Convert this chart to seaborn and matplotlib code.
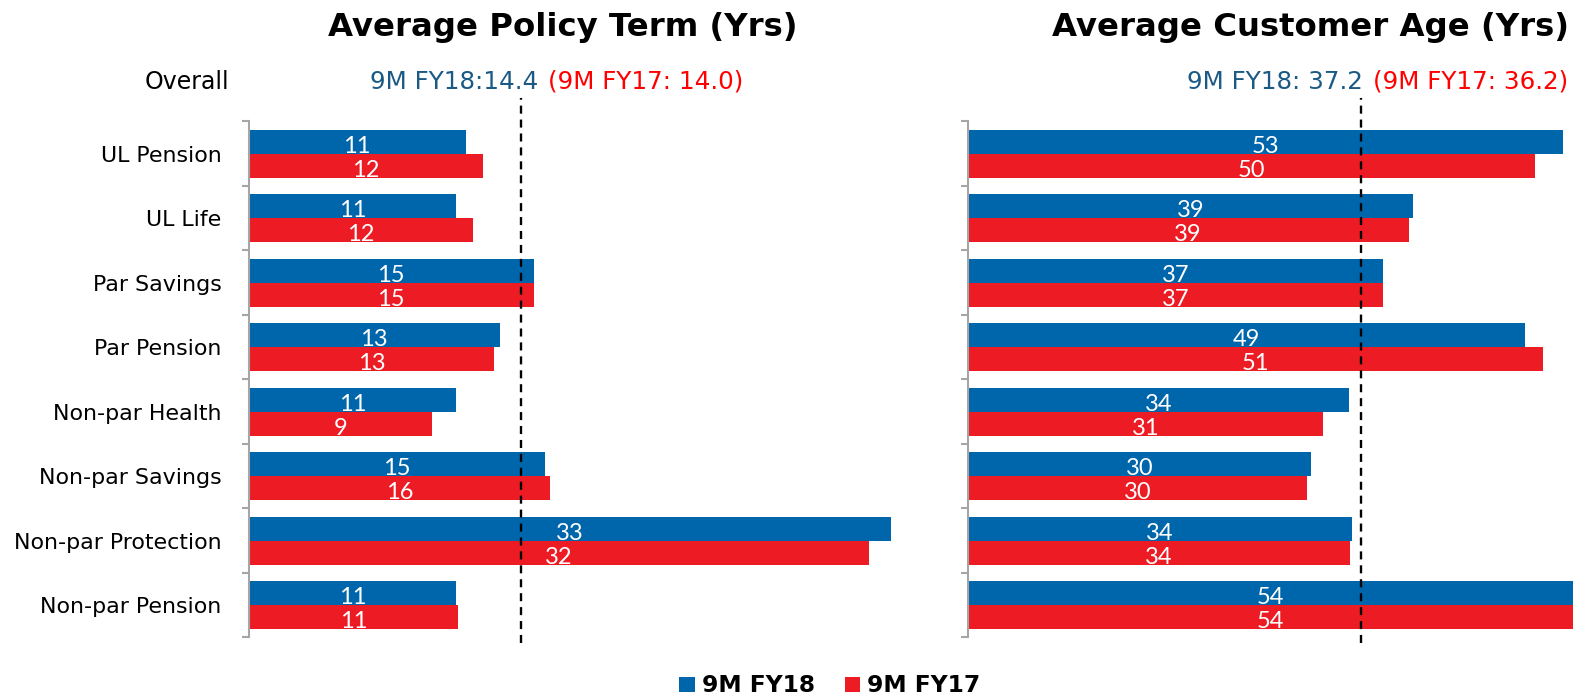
import numpy as np
import pandas as pd
import matplotlib
matplotlib.use("Agg")
import matplotlib.pyplot as plt
from matplotlib.patches import Patch
import seaborn as sns

# ---------------- data ----------------
categories = ["UL Pension", "UL Life", "Par Savings", "Par Pension",
              "Non-par Health", "Non-par Savings", "Non-par Protection", "Non-par Pension"]
periods = ["9M FY18", "9M FY17"]

# bar lengths as drawn (years)
term_fy18 = [11.5, 11.0, 15.1, 13.3, 11.0, 15.7, 34.0, 11.0]
term_fy17 = [12.4, 11.9, 15.1, 13.0, 9.7, 15.95, 32.85, 11.1]
# printed labels
term_lbl_fy18 = [11, 11, 15, 13, 11, 15, 33, 11]
term_lbl_fy17 = [12, 12, 15, 13, 9, 16, 32, 11]

age_fy18 = [56.2, 42.05, 39.2, 52.6, 36.05, 32.45, 36.35, 57.6]
age_fy17 = [53.55, 41.65, 39.2, 54.3, 33.6, 32.05, 36.15, 57.6]
age_lbl_fy18 = [53, 39, 37, 49, 34, 30, 34, 54]
age_lbl_fy17 = [50, 39, 37, 51, 31, 30, 34, 54]

term_overall = [14.4, 14.0]
age_overall = [37.2, 36.2]

titles = ["Average Policy Term (Yrs)", "Average Customer Age (Yrs)"]

colors = {"9M FY18": "#0066AB", "9M FY17": "#ED1C24"}
blue_txt = "#1A5A85"
red_txt = "#FF0000"

# ---------------- figure ----------------
W, H = 1579, 698
fig = plt.figure(figsize=(W / 100, H / 100), dpi=100)

def fx(px):
    return px / W

def fy(py):
    return 1 - py / H

top, bot = 121.5, 637.4
ax1 = fig.add_axes([fx(248.7), fy(bot), (35 * 18.88) / W, (bot - top) / H])
ax2 = fig.add_axes([fx(967.7), fy(bot), (1573 - 967.7) / W, (bot - top) / H])

def make_df(v18, v17):
    return pd.DataFrame({
        "category": categories * 2,
        "value": list(v18) + list(v17),
        "period": [periods[0]] * len(categories) + [periods[1]] * len(categories),
    })

panels = [
    (ax1, make_df(term_fy18, term_fy17), term_lbl_fy18, term_lbl_fy17, term_overall[0], 35),
    (ax2, make_df(age_fy18, age_fy17), age_lbl_fy18, age_lbl_fy17, age_overall[0], 57.18),
]

for i, (ax, df, l18, l17, ref, xmax) in enumerate(panels):
    sns.barplot(data=df, x="value", y="category", hue="period", order=categories,
                hue_order=periods, palette=colors, width=0.74, saturation=1,
                errorbar=None, legend=False, ax=ax, orient="h", linewidth=0)
    for cont, lbls in zip(ax.containers, [l18, l17]):
        anns = ax.bar_label(cont, labels=[str(v) for v in lbls], label_type="center",
                            color="white", fontsize=17, family=["Lato", "DejaVu Sans"])
        for a in anns:
            a.xyann = (0, -3.2)
    ax.set_xlim(0, xmax)
    ax.set_ylim(7.5, -0.5)
    ax.set_xlabel("")
    ax.set_ylabel("")
    ax.set_xticks([])
    for s in ["top", "right", "bottom"]:
        ax.spines[s].set_visible(False)
    ax.spines["left"].set_color("#A6A6A6")
    ax.spines["left"].set_linewidth(1.5)
    ax.set_yticks(np.arange(-0.5, 8, 1), minor=True)
    ax.tick_params(axis="y", which="minor", length=5, width=1.5, color="#A6A6A6", direction="out")
    ax.tick_params(axis="y", which="major", length=0, pad=19.5, labelsize=15.9, labelcolor="black")
    if i == 1:
        ax.tick_params(axis="y", which="major", labelleft=False)
    ax.axvline(ref, ymin=-0.01, ymax=1.045, color="black", lw=1.7,
               linestyle=(0, (3.4, 2.5)), clip_on=False, zorder=5)
    ax.patch.set_alpha(0)

# titles
fig.text(fx(563), fy(36), titles[0], ha="center", va="baseline",
         fontsize=23.3, fontweight="bold", color="black")
fig.text(fx(1310), fy(36), titles[1], ha="center", va="baseline",
         fontsize=23.3, fontweight="bold", color="black")

# overall texts
fs = 17.7
fig.text(fx(229), fy(89), "Overall", ha="right", va="baseline", fontsize=17, color="black")
fig.text(fx(538), fy(89), f"9M FY18:{term_overall[0]:.1f}", ha="right", va="baseline",
         fontsize=fs, color=blue_txt)
fig.text(fx(548), fy(89), f"(9M FY17: {term_overall[1]:.1f})", ha="left", va="baseline",
         fontsize=fs, color=red_txt)
fig.text(fx(1363), fy(89), f"9M FY18: {age_overall[0]:.1f}", ha="right", va="baseline",
         fontsize=fs, color=blue_txt)
fig.text(fx(1373), fy(89), f"(9M FY17: {age_overall[1]:.1f})", ha="left", va="baseline",
         fontsize=fs, color=red_txt)

# legend
handles = [Patch(facecolor=colors[p], edgecolor="none", label=p) for p in periods]
fig.legend(handles=handles, loc="center", bbox_to_anchor=(fx(830), fy(686)), ncol=2,
           frameon=False, handlelength=0.65, handleheight=0.65, handletextpad=0.3,
           columnspacing=1.3, prop={"weight": "bold", "size": 16.8}, borderaxespad=0)

fig.savefig("out.png", dpi=100)
